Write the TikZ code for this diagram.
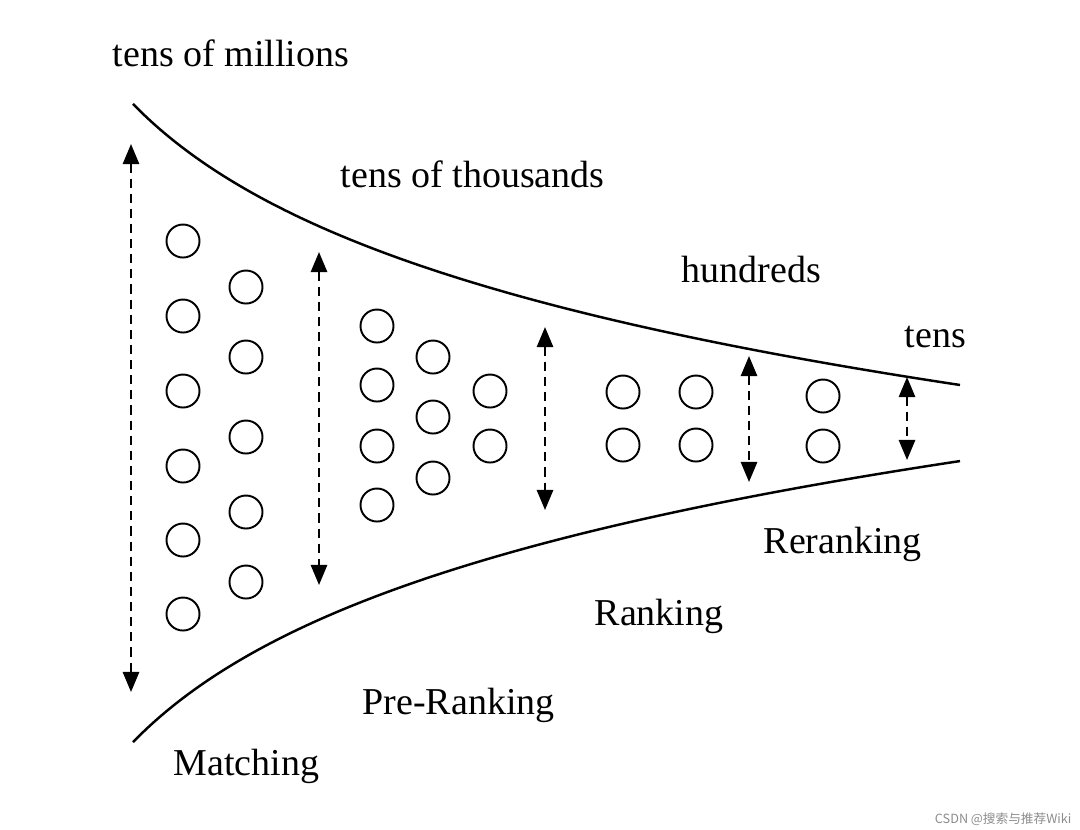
\documentclass[tikz,border=0pt]{standalone}
\usepackage{fontspec}
\setmainfont{Liberation Serif}
\newfontfamily\cjkfont{Noto Sans CJK SC}
\usetikzlibrary{arrows.meta}
\begin{document}
\begin{tikzpicture}[x=0.01cm,y=-0.01cm,
    item/.style={draw,circle,minimum size=0.33cm,inner sep=0pt,line width=0.55pt},
    span/.style={line width=0.65pt,dash pattern=on 2.6pt off 1.7pt,
        {Triangle[length=5.7pt,width=4.6pt]}-{Triangle[length=5.7pt,width=4.6pt]}},
    funnel/.style={line width=0.7pt},
    stage/.style={anchor=base west,inner sep=0pt,font=\fontsize{10.8}{13}\selectfont}]
\useasboundingbox (0,0) rectangle (1080,829);

% funnel walls
\draw[funnel] plot[domain=133:960,samples=120] (\x,{-624.6+146.8*ln(\x+10)});
\draw[funnel] plot[domain=133:960,samples=120] (\x,{1470.6-146.8*ln(\x+10)});

% items
\foreach \x/\y [count=\i] in {183/241,183/316,183/391,183/466,183/540,183/614,
    246/287,246/357,246/437,246/512,246/582,
    377/326,377/385,377/446,377/505,
    433/357,433/417,433/478,
    490/391,490/446,
    623/392,623/445,696/392,696/445,
    823/396,823/446}
    \node[item] (c\i) at (\x,\y) {};

% sizes
\coordinate (s1top) at (131,144); \coordinate (s1bot) at (131,692);
\coordinate (s2top) at (319,252); \coordinate (s2bot) at (319,585);
\coordinate (s3top) at (545,327); \coordinate (s3bot) at (545,510);
\coordinate (s4top) at (749,356); \coordinate (s4bot) at (749,482);
\coordinate (s5top) at (907,377); \coordinate (s5bot) at (907,460);
\foreach \s in {1,...,5}
    \draw[span] (s\s top) -- (s\s bot);

% counts
\node[stage] (millions)  at (112,66)  {tens of millions};
\node[stage] (thousands) at (340,187) {tens of thousands};
\node[stage] (hundreds)  at (681,282) {hundreds};
\node[stage] (tens)      at (904,347) {tens};

% stages
\node[stage] (matching)   at (173,775) {Matching};
\node[stage] (preranking) at (362,714) {Pre-Ranking};
\node[stage] (ranking)    at (594,625) {Ranking};
\node[stage] (reranking)  at (763,553) {Reranking};

\node[anchor=base east,inner sep=0pt,text=black!45,font=\cjkfont\fontsize{3.6}{4}\selectfont]
    (mark) at (1072,823) {CSDN @搜索与推荐Wiki};
\end{tikzpicture}
\end{document}
